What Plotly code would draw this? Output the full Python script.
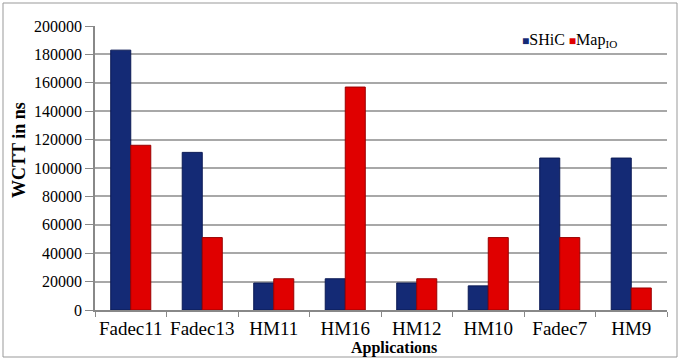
import plotly.graph_objects as go

categories = ["Fadec11", "Fadec13", "HM11", "HM16", "HM12", "HM10", "Fadec7", "HM9"]
shic = [183000, 111000, 19000, 22000, 19000, 17000, 107000, 107000]
mapio = [116000, 51000, 22000, 157000, 22000, 51000, 51000, 15500]
y_ticks = [0, 20000, 40000, 60000, 80000, 100000, 120000, 140000, 160000, 180000, 200000]
series_names = ["SHiC", "Map<sub>IO</sub>"]
colors = ["#142a75", "#e00000"]

W, H = 681, 360
ml, mr, mt, mb = 95, 14, 26, 50
pw, ph = W - ml - mr, H - mt - mb

fig = go.Figure()
fig.add_trace(go.Bar(x=categories, y=shic, name=series_names[0],
                     marker=dict(color=colors[0], line=dict(color="#0b1a55", width=1))))
fig.add_trace(go.Bar(x=categories, y=mapio, name=series_names[1],
                     marker=dict(color=colors[1], line=dict(color="#9a0000", width=1))))

font = "Times New Roman, Liberation Serif, DejaVu Serif, serif"
fig.update_layout(
    width=W, height=H,
    margin=dict(l=ml, r=mr, t=mt, b=mb),
    paper_bgcolor="white", plot_bgcolor="white",
    barmode="group", bargap=0.44, bargroupgap=0,
    font=dict(family=font, color="black"),
    showlegend=False,
    xaxis=dict(tickfont=dict(size=19, family=font), showline=True, linecolor="#888",
               linewidth=1.5, ticks="outside", tickson="boundaries", ticklen=5,
               tickcolor="#888", automargin=False, tickangle=0),
    yaxis=dict(range=[0, 200000], tickvals=y_ticks, ticktext=[str(v) for v in y_ticks],
               tickfont=dict(size=16, family=font), showline=True, linecolor="#888",
               linewidth=1.5, ticks="outside", ticklen=8, tickcolor="#888",
               showgrid=True, gridcolor="#a8a8a8", gridwidth=1.5, zeroline=False,
               automargin=False),
)
# axis titles
fig.add_annotation(text="<b>Applications</b>", xref="paper", yref="paper",
                   x=(394 - ml) / pw, y=-(348 - (H - mb)) / ph, showarrow=False,
                   font=dict(size=16, family=font), xanchor="center", yanchor="middle")
fig.add_annotation(text="<b>WCTT in ns</b>", xref="paper", yref="paper",
                   x=(19 - ml) / pw, y=1 - (150 - mt) / ph, showarrow=False, textangle=-90,
                   font=dict(size=18, family=font), xanchor="center", yanchor="middle")
# legend
legend_text = (f"<span style='color:{colors[0]};font-size:12px'>■</span>{series_names[0]} "
               f"<span style='color:{colors[1]};font-size:12px'>■</span>{series_names[1]}")
fig.add_annotation(text=legend_text, xref="paper", yref="paper",
                   x=(520 - ml) / pw, y=1 - (40 - mt) / ph, showarrow=False,
                   font=dict(size=16, family=font), xanchor="left", yanchor="middle")
fig.add_shape(type="rect", xref="paper", yref="paper",
              x0=(3 - ml) / pw, x1=(677 - ml) / pw,
              y0=-(357 - (H - mb)) / ph, y1=1 + (mt - 3) / ph,
              line=dict(color="#999", width=1), layer="below")
fig.write_html("out.html", config={"displayModeBar": False},
               post_script="document.body.style.margin='0';")
